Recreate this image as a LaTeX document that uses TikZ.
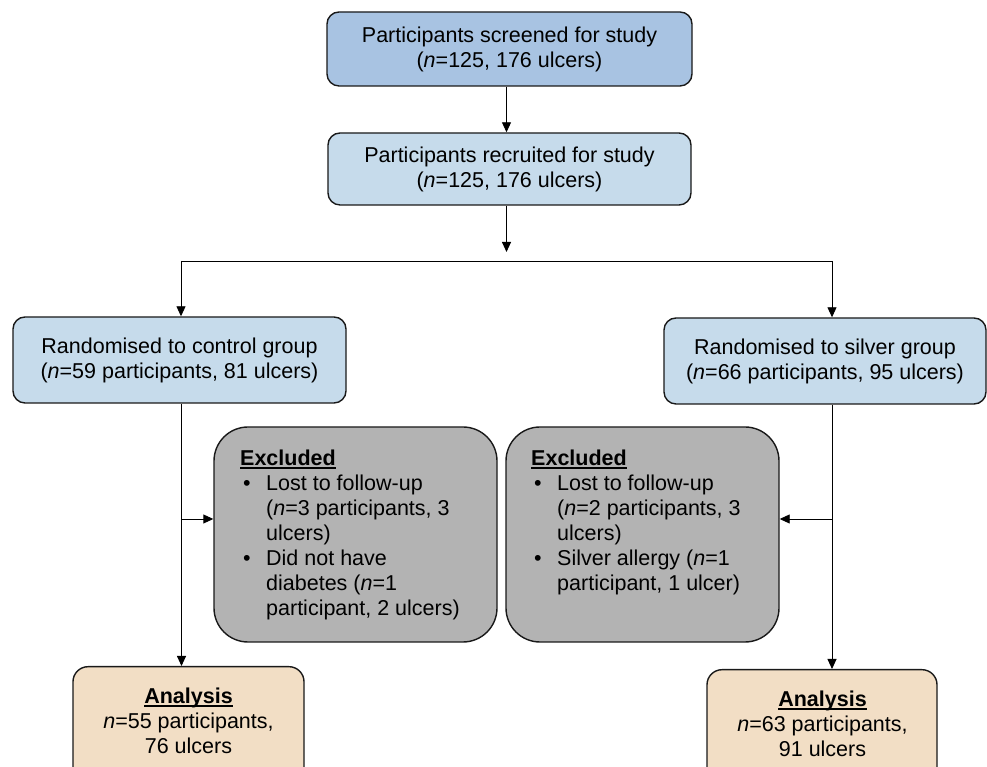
\documentclass[tikz,border=0pt]{standalone}
\usepackage{fontspec}
\setmainfont{Liberation Sans}
\usetikzlibrary{arrows.meta}
\definecolor{topblue}{RGB}{168,195,226}
\definecolor{ltblue}{RGB}{198,219,235}
\definecolor{exgray}{RGB}{179,179,179}
\definecolor{tanfill}{RGB}{242,222,197}
\newcommand\myul[1]{\setbox0\hbox{#1}\rlap{\rule[-3pt]{\wd0}{1.6pt}}\box0}
\newcommand\fsz{\fontsize{21.5}{25}\selectfont}
\newcommand\bul{\hspace*{3pt}\makebox[23pt][l]{\textbullet}}
\newcommand\ind{\hspace*{26pt}}
\begin{document}
\begin{tikzpicture}[x=1pt,y=1pt,
  box/.style={draw=black!90, line width=1.4pt, rounded corners=12pt, align=center, inner sep=0pt, font=\fsz},
  exbox/.style={draw=black!90, line width=1.4pt, rounded corners=34pt, fill=exgray, inner sep=0pt},
  anbox/.style={draw=black!90, line width=1.4pt, rounded corners=15pt, fill=tanfill, inner sep=0pt},
  txt/.style={inner sep=0pt, font=\fsz},
  arr/.style={-{Triangle[width=9pt,length=10pt]}, line width=0.9pt},
  con/.style={line width=0.9pt}]
\useasboundingbox (0,0) rectangle (987,767);
\clip (0,0) rectangle (987,767);
\node[box, fill=topblue, minimum width=365pt, minimum height=74pt] (scr) at (509.5,718) {Participants screened for study\\(\textit{n}=125, 176 ulcers)};
\node[box, fill=ltblue, minimum width=363pt, minimum height=72pt] (rec) at (509.5,598) {Participants recruited for study\\(\textit{n}=125, 176 ulcers)};
\node[box, fill=ltblue, minimum width=333pt, minimum height=86pt] (ctl) at (179.5,407) {Randomised to control group\\(\textit{n}=59 participants, 81 ulcers)};
\node[box, fill=ltblue, minimum width=322pt, minimum height=86pt] (slv) at (825,406) {Randomised to silver group\\(\textit{n}=66 participants, 95 ulcers)};
\node[exbox, minimum width=283pt, minimum height=215pt] (exl) at (355.5,232.5) {};
\node[exbox, minimum width=273pt, minimum height=215pt] (exr) at (642.5,232.5) {};
\node[txt, align=left, anchor=north west] (exlt) at (240,317) {\myul{\textbf{Excluded}}\\\bul Lost to follow-up\\\ind(\textit{n}=3 participants, 3\\\ind ulcers)\\\bul Did not have\\\ind diabetes (\textit{n}=1\\\ind participant, 2 ulcers)};
\node[txt, align=left, anchor=north west] (exrt) at (531,317) {\myul{\textbf{Excluded}}\\\bul Lost to follow-up\\\ind(\textit{n}=2 participants, 3\\\ind ulcers)\\\bul Silver allergy (\textit{n}=1\\\ind participant, 1 ulcer)};
\node[anbox, minimum width=231pt, minimum height=130pt, anchor=north] (anl) at (188.5,101) {};
\node[anbox, minimum width=230pt, minimum height=130pt, anchor=north] (anr) at (822,98) {};
\node[txt, align=center, anchor=north] (anlt) at (188.5,79) {\myul{\textbf{Analysis}}\\\textit{n}=55 participants,\\76 ulcers};
\node[txt, align=center, anchor=north] (anrt) at (822.5,76) {\myul{\textbf{Analysis}}\\\textit{n}=63 participants,\\91 ulcers};
% connectors
\draw[arr] ([xshift=-3pt]scr.south) -- ([xshift=-3pt]rec.north);
\coordinate (split) at (506.5,515);
\draw[arr] ([xshift=-3pt]rec.south) -- (split);
\coordinate (bl) at (181,506);
\coordinate (br) at (832,506);
\draw[con] (bl) -- (br);
\draw[arr] (bl) -- (bl |- ctl.north);
\draw[arr] (br) -- (br |- slv.north);
\coordinate (lx) at (181.5,0);
\coordinate (rx) at (832,0);
\draw[arr] (ctl.south -| lx) -- (anl.north -| lx);
\draw[arr] (slv.south -| rx) -- (anr.north -| rx);
\coordinate (lb) at (181.5,248);
\coordinate (rb) at (832,248);
\draw[arr] (lb) -- (lb -| exl.west);
\draw[arr] (rb) -- (rb -| exr.east);
\end{tikzpicture}
\end{document}
